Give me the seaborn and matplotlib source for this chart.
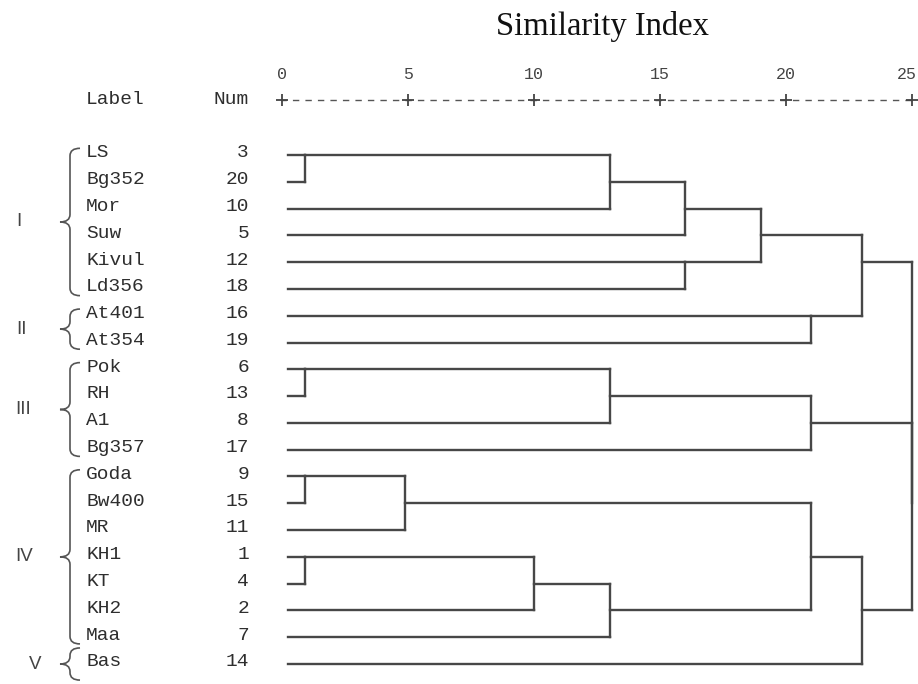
import numpy as np
import pandas as pd
import matplotlib
matplotlib.use("Agg")
import matplotlib.pyplot as plt
import seaborn as sns
from matplotlib.path import Path
from matplotlib.patches import PathPatch

# ---------------- data ----------------
labels = ["LS", "Bg352", "Mor", "Suw", "Kivul", "Ld356", "At401", "At354",
          "Pok", "RH", "A1", "Bg357", "Goda", "Bw400", "MR", "KH1", "KT",
          "KH2", "Maa", "Bas"]
nums = [3, 20, 10, 5, 12, 18, 16, 19, 6, 13, 8, 17, 9, 15, 11, 1, 4, 2, 7, 14]

# agglomeration steps (leaves 0..19 in display order, new clusters 20, 21, ...)
merge_left = [0, 20, 21, 4, 22, 6, 24, 8, 27, 28, 12, 30, 15, 32, 33, 31, 35, 29, 26]
merge_right = [1, 2, 3, 5, 23, 7, 25, 9, 10, 11, 13, 14, 16, 17, 18, 34, 19, 36, 37]
merge_height = [0.9, 13, 16, 16, 19, 21, 23, 0.9, 13, 21, 0.9, 4.9, 0.9, 10, 13,
                21, 23, 25, 25]

ticks = [0, 5, 10, 15, 20, 25]
groups = ["I", "II", "III", "IV", "V"]
group_first = [0, 6, 8, 12, 19]
group_last = [5, 7, 11, 18, 19]

# ---------------- layout ----------------
W, H = 918, 684
X0_PX, PX_PER_UNIT = 282.0, 25.2
Y0_PX, PX_PER_ROW = 155.0, 26.79
LEAF_X0 = 0.25
Y_TOP = -Y0_PX / PX_PER_ROW
Y_BOT = (H - Y0_PX) / PX_PER_ROW
X_MIN = -X0_PX / PX_PER_UNIT
X_MAX = (W - X0_PX) / PX_PER_UNIT
def row_of(px):
    return (px - Y0_PX) / PX_PER_ROW

LINE_COLOR = "#474747"
TEXT_COLOR = "#2e2e2e"
MONO = ["Liberation Mono", "DejaVu Sans Mono"]

sns.set_theme(style="white")
plt.rcParams["font.family"] = ["DejaVu Sans"]

fig = plt.figure(figsize=(W / 100, H / 100), dpi=100)
fig.patch.set_facecolor("white")

# label axes: x in pixels, y in rows
ax_lab = fig.add_axes([0, 0, 1, 1])
ax_lab.set_xlim(0, W)
ax_lab.set_ylim(Y_BOT, Y_TOP)
ax_lab.axis("off")

# dendrogram axes: x in distance units, y in rows
ax = fig.add_axes([0, 0, 1, 1])
ax.patch.set_alpha(0)

# ---------------- dendrogram segments ----------------
n = len(labels)
node_x = {i: LEAF_X0 for i in range(n)}
node_y = {i: float(i) for i in range(n)}
rows = []
seg = 0
for k, (l, r, h) in enumerate(zip(merge_left, merge_right, merge_height)):
    yl, yr = node_y[l], node_y[r]
    for (xa, ya, xb, yb) in [(node_x[l], yl, h, yl), (node_x[r], yr, h, yr), (h, yl, h, yr)]:
        rows.append({"seg": seg, "x": xa, "y": ya})
        rows.append({"seg": seg, "x": xb, "y": yb})
        seg += 1
    new = n + k
    node_x[new] = h
    node_y[new] = float(np.floor((yl + yr) / 2))
segs = pd.DataFrame(rows)
sns.lineplot(data=segs, x="x", y="y", units="seg", estimator=None, sort=False,
             color=LINE_COLOR, linewidth=1.7, solid_capstyle="projecting",
             legend=False, ax=ax)
ax.set_xlim(X_MIN, X_MAX)
ax.set_ylim(Y_BOT, Y_TOP)
ax.axis("off")

# ---------------- scale axis ----------------
y_axis = row_of(100)
y_tick = row_of(75)
ax.plot([0, 25], [y_axis, y_axis], color="#555555", lw=1.0,
        linestyle=(1.5, (4.6, 4.4)))
ax.plot(ticks, [y_axis] * len(ticks), ls="none", marker="+", ms=8, mew=1.3,
        color="#444444")
for t in ticks:
    if t == ticks[-1]:
        ax.text(X_MAX - 0.04, y_tick, str(t), ha="right", va="center",
                fontsize=12, family=MONO, color="#444444")
    else:
        ax.text(t, y_tick, str(t), ha="center", va="center", fontsize=12,
                family=MONO, color="#444444")

# title
fig.text(603 / W, 1 - 35 / H, "Similarity Index", ha="center", va="baseline",
         fontsize=23.5, family=["Liberation Serif", "DejaVu Serif"], color="#111111")

# headers
ax_lab.text(86, y_axis, "Label", ha="left", va="center", fontsize=14,
            family=MONO, color=TEXT_COLOR)
ax_lab.text(249, y_axis, "Num", ha="right", va="center", fontsize=14,
            family=MONO, color=TEXT_COLOR)

# leaf labels
for i, (lab, num) in enumerate(zip(labels, nums)):
    ax_lab.text(86, i - 0.08, lab, ha="left", va="center", fontsize=14,
                family=MONO, color=TEXT_COLOR)
    ax_lab.text(249, i - 0.08, str(num), ha="right", va="center", fontsize=14,
                family=MONO, color=TEXT_COLOR)

# ---------------- group braces ----------------
def brace(axh, y0, y1, x_tip=60, x_mid=70, x_end=80, r=0.28):
    ym = (y0 + y1) / 2
    verts = [(x_end, y0), (x_mid, y0), (x_mid, y0 + r),
             (x_mid, ym - r), (x_mid, ym), (x_tip, ym),
             (x_mid, ym), (x_mid, ym + r),
             (x_mid, y1 - r), (x_mid, y1), (x_end, y1)]
    codes = [Path.MOVETO, Path.CURVE3, Path.CURVE3,
             Path.LINETO, Path.CURVE3, Path.CURVE3,
             Path.CURVE3, Path.CURVE3,
             Path.LINETO, Path.CURVE3, Path.CURVE3]
    axh.add_patch(PathPatch(Path(verts, codes), fill=False, ec="#555555", lw=1.2))
    return ym

group_label_x = [16, 16, 15, 15, 29]
for g, a, b, gx in zip(groups, group_first, group_last, group_label_x):
    if a == b:
        y0, y1 = a - 0.6, b + 0.6
    else:
        y0, y1 = a - 0.25, b + 0.25
    ym = brace(ax_lab, y0, y1)
    ax_lab.text(gx, ym, g, ha="left", va="center", fontsize=13.5,
                family=["Liberation Sans", "DejaVu Sans"], color="#444444")

fig.savefig("out.png", dpi=100, facecolor="white")
